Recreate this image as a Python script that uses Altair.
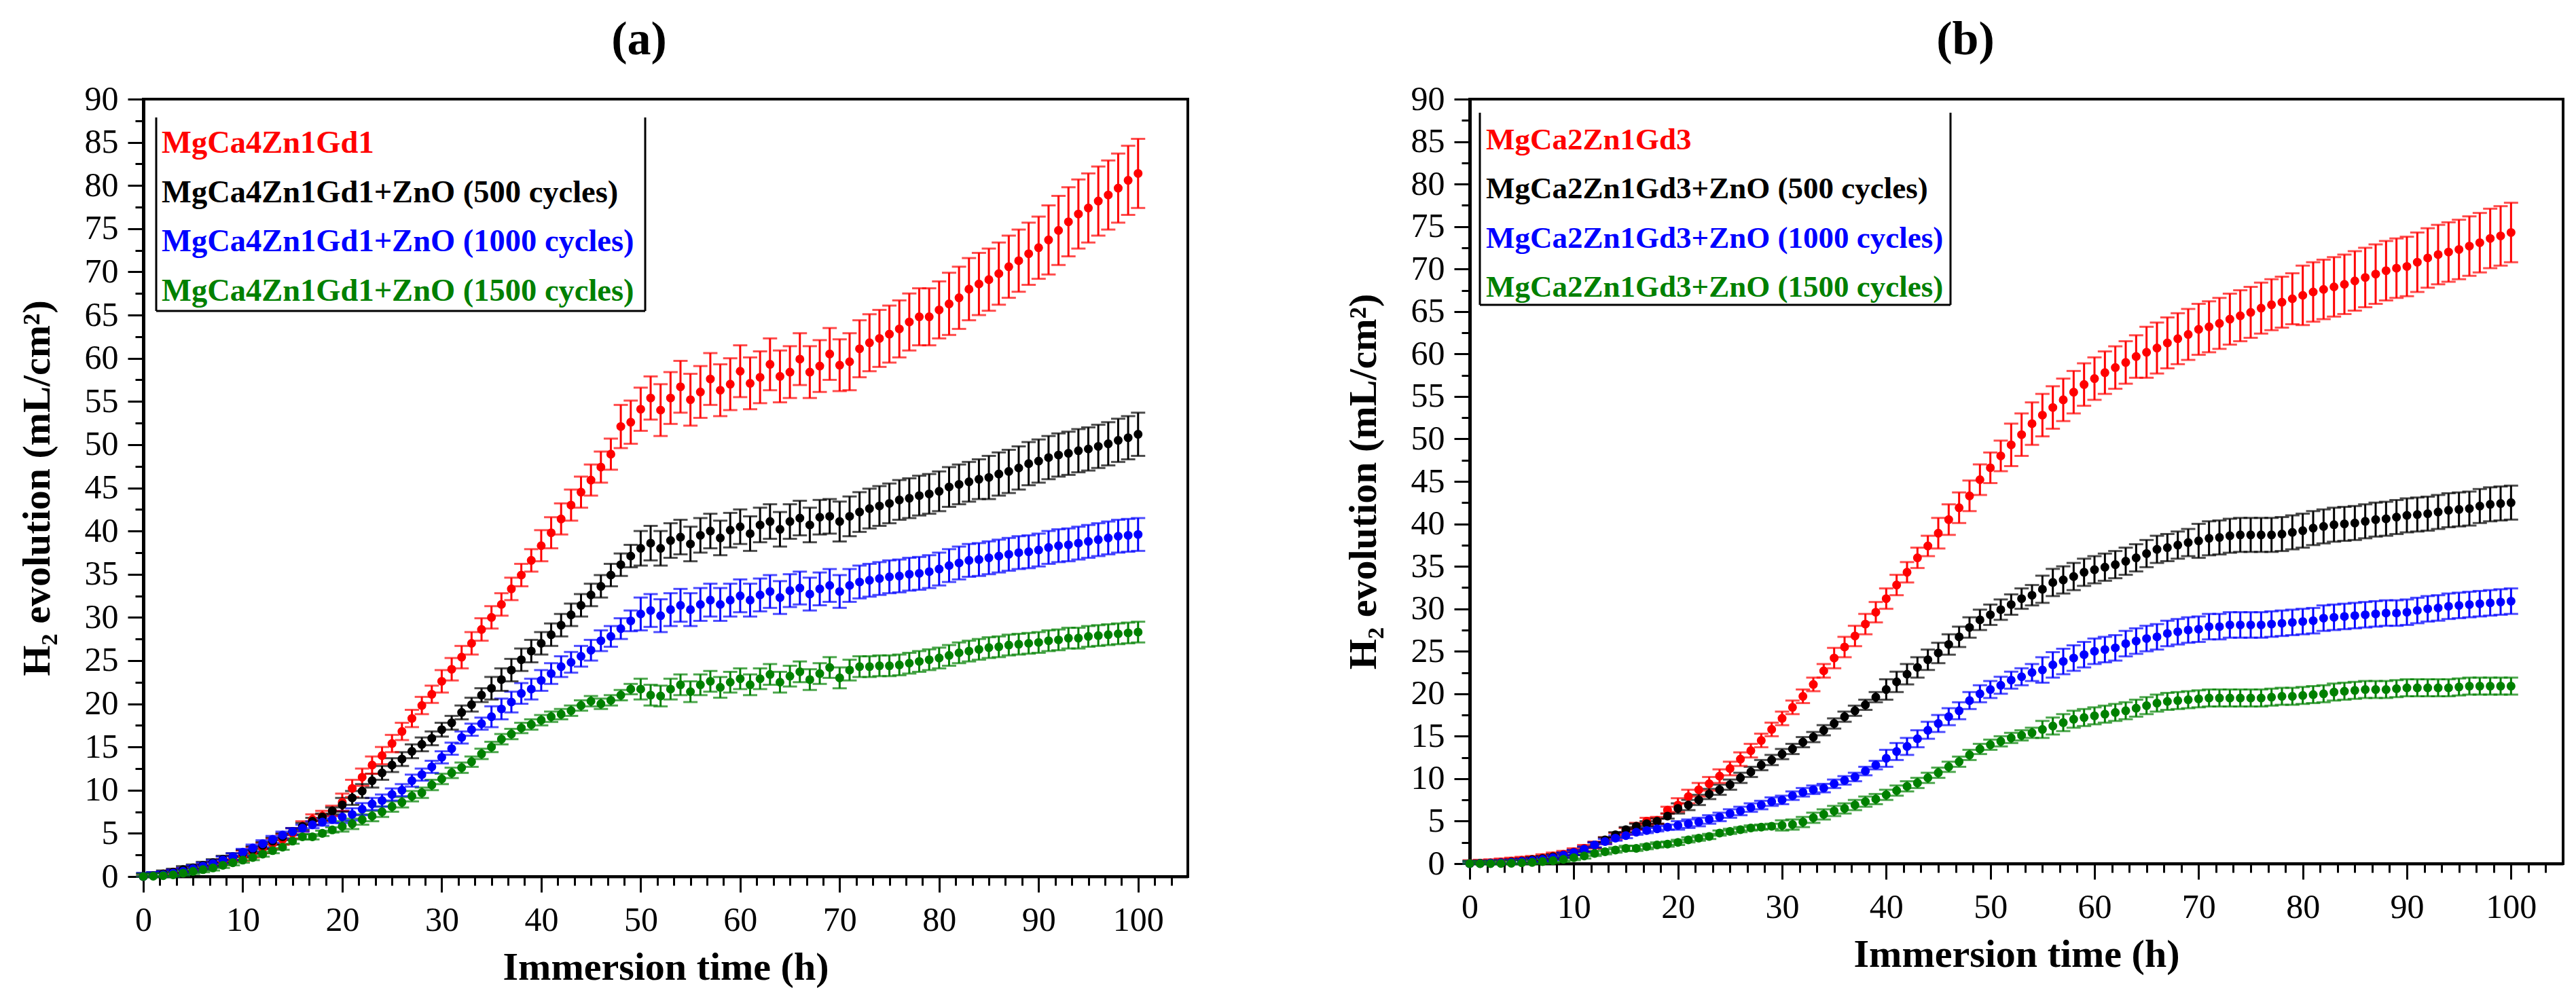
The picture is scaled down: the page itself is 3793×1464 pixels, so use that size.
import altair as alt
import pandas as pd

FONT = "Liberation Serif"
T = list(range(101))

A_RED = [0.0,0.1,0.3,0.5,0.7,0.9,1.1,1.4,1.7,2.1,
         2.4,2.8,3.3,3.8,4.3,5.0,5.8,6.6,7.0,7.6,
         8.6,10.2,11.5,12.9,14.0,15.4,16.8,18.3,19.8,21.1,
         22.6,24.0,25.4,27.0,28.6,30.0,31.5,33.3,34.9,36.6,
         38.3,39.8,41.4,43.0,44.5,45.9,47.4,48.9,52.1,52.6,
         54.1,55.4,54.0,55.4,56.7,55.2,56.1,57.6,56.3,57.0,
         58.5,57.1,57.8,59.3,57.9,58.4,59.9,58.4,59.1,60.5,
         59.2,59.6,61.1,61.8,62.3,62.8,63.4,64.2,64.8,64.8,
         65.6,66.3,67.0,68.0,68.6,69.1,69.8,70.6,71.3,72.1,
         72.8,73.7,74.8,75.8,76.7,77.4,78.2,78.9,79.7,80.6,
         81.4]
A_BLK = [0.0,0.1,0.3,0.5,0.8,1.0,1.3,1.6,2.0,2.3,
         2.7,3.1,3.6,4.1,4.6,5.2,5.8,6.4,6.9,7.6,
         8.3,9.1,9.9,11.1,12.0,12.9,13.6,14.5,15.3,16.0,
         17.0,17.8,19.0,19.9,21.0,21.8,22.8,23.9,25.1,26.1,
         27.0,28.0,29.1,30.3,31.4,32.6,33.6,34.9,36.1,37.1,
         38.0,38.6,38.0,38.9,39.3,38.5,39.5,40.0,39.2,40.1,
         40.5,39.7,40.7,41.1,40.2,41.1,41.5,40.7,41.6,41.7,
         41.1,41.7,42.2,42.6,42.9,43.2,43.6,43.8,44.1,44.3,
         44.6,45.1,45.4,45.7,46.0,46.2,46.6,46.9,47.3,47.8,
         48.1,48.5,48.8,49.0,49.3,49.5,49.8,50.1,50.5,50.8,
         51.2]
A_BLU = [0.0,0.1,0.2,0.4,0.6,0.9,1.2,1.5,1.9,2.3,
         2.8,3.3,3.8,4.3,4.8,5.2,5.6,6.0,6.3,6.6,
         6.9,7.2,7.8,8.4,8.8,9.5,10.0,11.1,11.8,12.7,
         13.8,14.8,16.1,17.0,17.7,18.5,19.4,20.2,21.2,21.7,
         22.7,23.5,24.3,24.8,25.5,26.2,27.3,27.8,28.7,29.6,
         30.4,30.8,30.2,30.9,31.4,30.9,31.5,32.0,31.5,32.0,
         32.5,32.0,32.6,33.0,32.3,33.1,33.4,32.7,33.3,33.7,
         33.0,33.7,34.1,34.3,34.5,34.7,34.8,35.0,35.1,35.3,
         35.6,36.0,36.3,36.6,36.7,36.9,37.1,37.3,37.5,37.6,
         37.8,38.1,38.3,38.4,38.6,38.8,39.0,39.2,39.4,39.5,
         39.6]
A_GRN = [0.0,0.05,0.1,0.2,0.4,0.6,0.8,1.0,1.3,1.6,
         1.9,2.2,2.6,3.0,3.4,4.1,4.6,4.6,5.0,5.4,
         5.8,6.1,6.6,7.0,7.5,8.1,8.6,9.3,9.7,10.6,
         11.3,12.0,12.6,13.3,14.2,15.0,15.9,16.5,17.2,17.6,
         18.1,18.5,18.8,19.2,19.8,20.3,20.0,20.4,21.0,21.7,
         21.7,21.0,20.9,21.7,22.2,21.4,22.2,22.6,21.9,22.5,
         22.9,22.2,22.9,23.4,22.5,23.2,23.7,22.8,23.5,24.2,
         23.0,23.9,24.3,24.3,24.4,24.4,24.5,24.7,24.9,25.1,
         25.3,25.6,25.9,26.1,26.3,26.5,26.6,26.8,26.9,27.0,
         27.1,27.3,27.4,27.6,27.6,27.8,27.9,28.0,28.1,28.2,
         28.3]

B_RED = [0.0,0.05,0.1,0.2,0.3,0.4,0.5,0.7,0.9,1.1,
         1.4,1.8,2.2,2.7,3.2,3.8,4.4,5.0,5.1,6.3,
         6.9,7.9,8.7,9.4,10.3,11.2,12.3,13.3,14.5,15.8,
         17.1,18.4,19.7,21.1,22.7,24.2,25.5,26.8,28.2,29.6,
         31.2,32.8,34.3,36.0,37.4,38.9,40.5,41.9,43.3,45.2,
         46.6,48.0,49.3,50.5,51.8,52.8,53.7,54.6,55.5,56.4,
         57.1,57.8,58.4,59.0,59.7,60.2,60.7,61.3,61.8,62.3,
         62.9,63.2,63.6,64.1,64.5,64.9,65.4,65.8,66.1,66.5,
         66.9,67.3,67.6,67.9,68.2,68.6,69.0,69.4,69.8,70.1,
         70.3,70.8,71.3,71.7,72.0,72.3,72.7,73.1,73.6,73.9,
         74.3]
B_BLK = [0.0,0.03,0.06,0.1,0.2,0.3,0.45,0.6,0.8,1.0,
         1.3,1.7,2.2,2.8,3.4,4.0,4.4,4.7,5.0,5.6,
         6.5,6.9,7.5,8.2,8.7,9.3,10.1,10.8,11.6,12.2,
         12.9,13.5,14.3,14.9,15.7,16.5,17.3,18.0,18.7,19.6,
         20.5,21.4,22.3,23.1,24.0,24.8,25.8,26.7,27.8,28.7,
         29.3,29.9,30.5,31.2,31.6,32.3,33.1,33.4,33.8,34.3,
         34.6,34.9,35.2,35.6,36.0,36.5,37.0,37.2,37.5,37.8,
         38.0,38.3,38.4,38.6,38.7,38.7,38.7,38.7,38.8,39.0,
         39.2,39.5,39.7,39.9,40.0,40.1,40.3,40.5,40.6,40.8,
         41.0,41.1,41.2,41.4,41.6,41.7,41.8,42.1,42.3,42.4,
         42.5]
B_BLU = [0.0,0.02,0.05,0.1,0.15,0.25,0.35,0.5,0.7,1.0,
         1.3,1.7,2.2,2.6,3.0,3.3,3.7,3.9,4.1,4.3,
         4.5,4.7,4.9,5.2,5.5,5.9,6.2,6.6,6.9,7.3,
         7.5,8.0,8.4,8.7,8.9,9.4,9.8,10.2,10.9,11.6,
         12.4,13.2,13.8,14.7,15.7,16.5,17.3,18.0,19.2,20.0,
         20.5,21.0,21.6,22.0,22.5,22.8,23.4,23.8,24.2,24.6,
         25.0,25.2,25.4,25.9,26.2,26.5,26.7,27.1,27.3,27.5,
         27.6,27.9,27.9,28.1,28.1,28.1,28.1,28.2,28.3,28.4,
         28.5,28.6,28.9,29.0,29.1,29.2,29.3,29.4,29.5,29.5,
         29.6,29.8,30.0,30.1,30.3,30.4,30.5,30.6,30.7,30.8,
         30.9]
B_GRN = [0.0,0.0,0.0,0.02,0.05,0.1,0.15,0.25,0.35,0.5,
         0.7,0.9,1.2,1.4,1.6,1.8,1.8,2.0,2.2,2.3,
         2.5,2.8,3.0,3.2,3.6,3.8,4.0,4.2,4.3,4.4,
         4.5,4.6,4.9,5.4,5.8,6.2,6.5,6.9,7.3,7.6,
         8.1,8.6,9.1,9.5,10.1,10.7,11.4,12.0,12.8,13.5,
         14.0,14.4,14.8,15.1,15.4,15.8,16.2,16.6,17.0,17.2,
         17.4,17.6,17.8,18.0,18.3,18.6,18.9,19.1,19.2,19.3,
         19.4,19.5,19.5,19.5,19.5,19.5,19.5,19.6,19.7,19.7,
         19.8,19.9,20.0,20.2,20.3,20.4,20.5,20.5,20.5,20.6,
         20.7,20.7,20.7,20.7,20.7,20.8,20.9,20.9,20.9,20.9,
         20.9]

# error bar half-lengths
EA_RED = [0.3,0.3,0.3,0.3,0.3,0.3,0.3,0.3,0.3,0.3,
          0.6,0.6,0.6,0.6,0.6,0.6,0.6,0.6,0.6,0.6,
          1.0,1.0,1.0,1.0,1.0,1.0,1.0,1.0,1.0,1.0,
          1.3,1.3,1.3,1.3,1.3,1.3,1.3,1.3,1.3,1.3,
          1.8,1.8,1.8,1.8,1.8,1.8,1.8,1.8,2.5,2.5,
          2.5,2.5,3.0,3.0,3.0,3.0,3.0,3.0,3.0,3.0,
          3.0,3.0,3.0,3.0,3.0,3.0,3.0,3.0,3.0,3.0,
          3.0,3.3,3.3,3.3,3.3,3.3,3.3,3.3,3.3,3.3,
          3.3,3.6,3.6,3.6,3.6,3.6,3.6,3.6,3.6,3.6,
          3.6,4.0,4.0,4.0,4.0,4.0,4.0,4.0,4.0,4.0,
          4.0]
EA_BLK = [0.4,0.4,0.4,0.4,0.4,0.4,0.4,0.4,0.4,0.4,
          0.4,0.4,0.4,0.4,0.4,0.4,0.4,0.4,0.4,0.4,
          0.8,0.8,0.8,0.8,0.8,0.8,0.8,0.8,0.8,0.8,
          0.8,0.8,0.8,0.8,0.8,1.3,1.3,1.3,1.3,1.3,
          1.3,1.3,1.3,1.3,1.3,1.3,1.3,1.3,1.3,1.3,
          2.0,2.0,2.0,2.0,2.0,2.0,2.0,2.0,2.0,2.0,
          2.0,2.0,2.0,2.0,2.0,2.0,2.0,2.0,2.0,2.0,
          2.3,2.3,2.3,2.3,2.3,2.3,2.3,2.3,2.3,2.3,
          2.3,2.3,2.3,2.3,2.3,2.5,2.5,2.5,2.5,2.5,
          2.5,2.5,2.5,2.5,2.5,2.5,2.5,2.5,2.5,2.5,
          2.5]
EA_BLU = [0.4,0.4,0.4,0.4,0.4,0.4,0.4,0.4,0.4,0.4,
          0.4,0.4,0.4,0.4,0.4,0.4,0.4,0.4,0.4,0.4,
          0.7,0.7,0.7,0.7,0.7,0.7,0.7,0.7,0.7,0.7,
          0.7,0.7,0.7,0.7,0.7,1.2,1.2,1.2,1.2,1.2,
          1.2,1.2,1.2,1.2,1.2,1.2,1.2,1.2,1.2,1.2,
          1.9,1.9,1.9,1.9,1.9,1.9,1.9,1.9,1.9,1.9,
          1.9,1.9,1.9,1.9,1.9,1.9,1.9,1.9,1.9,1.9,
          1.9,1.9,1.9,1.9,1.9,1.9,1.9,1.9,1.9,1.9,
          1.9,1.9,1.9,1.9,1.9,1.9,1.9,1.9,1.9,1.9,
          1.9,1.9,1.9,1.9,1.9,1.9,1.9,1.9,1.9,1.9,
          1.9]
EA_GRN = [0.3,0.3,0.3,0.3,0.3,0.3,0.3,0.3,0.3,0.3,
          0.3,0.3,0.3,0.3,0.3,0.3,0.3,0.3,0.3,0.3,
          0.6,0.6,0.6,0.6,0.6,0.6,0.6,0.6,0.6,0.6,
          0.6,0.6,0.6,0.6,0.6,0.6,0.6,0.6,0.6,0.6,
          0.6,0.6,0.6,0.6,0.6,0.6,0.6,0.6,0.6,0.6,
          1.2,1.2,1.2,1.2,1.2,1.2,1.2,1.2,1.2,1.2,
          1.2,1.2,1.2,1.2,1.2,1.2,1.2,1.2,1.2,1.2,
          1.2,1.2,1.2,1.2,1.2,1.2,1.2,1.2,1.2,1.2,
          1.2,1.2,1.2,1.2,1.2,1.2,1.2,1.2,1.2,1.2,
          1.2,1.2,1.2,1.2,1.2,1.2,1.2,1.2,1.2,1.2,
          1.2]
EB_RED = [0.4,0.4,0.4,0.4,0.4,0.4,0.4,0.4,0.4,0.4,
          0.4,0.4,0.4,0.4,0.4,0.4,0.4,0.4,0.4,0.4,
          0.8,0.8,0.8,0.8,0.8,0.8,0.8,0.8,0.8,0.8,
          0.8,0.8,0.8,0.8,0.8,1.2,1.2,1.2,1.2,1.2,
          1.2,1.2,1.2,1.2,1.2,1.8,1.8,1.8,1.8,1.8,
          1.8,1.8,2.5,2.5,2.5,2.5,2.5,2.5,2.5,2.5,
          2.5,2.5,2.5,2.5,2.5,3.0,3.0,3.0,3.0,3.0,
          3.0,3.0,3.0,3.0,3.0,3.0,3.0,3.0,3.0,3.0,
          3.5,3.5,3.5,3.5,3.5,3.5,3.5,3.5,3.5,3.5,
          3.5,3.5,3.5,3.5,3.5,3.5,3.5,3.5,3.5,3.5,
          3.5]
EB_BLK = [0.3,0.3,0.3,0.3,0.3,0.3,0.3,0.3,0.3,0.3,
          0.3,0.3,0.3,0.3,0.3,0.3,0.3,0.3,0.3,0.3,
          0.6,0.6,0.6,0.6,0.6,0.6,0.6,0.6,0.6,0.6,
          0.6,0.6,0.6,0.6,0.6,0.6,0.6,0.6,0.6,0.6,
          1.2,1.2,1.2,1.2,1.2,1.2,1.2,1.2,1.2,1.2,
          1.2,1.2,1.2,1.2,1.2,1.6,1.6,1.6,1.6,1.6,
          1.6,1.6,1.6,1.6,1.6,1.6,1.6,1.6,1.6,1.6,
          2.0,2.0,2.0,2.0,2.0,2.0,2.0,2.0,2.0,2.0,
          2.0,2.0,2.0,2.0,2.0,2.0,2.0,2.0,2.0,2.0,
          2.0,2.0,2.0,2.0,2.0,2.0,2.0,2.0,2.0,2.0,
          2.0]
EB_BLU = [0.3,0.3,0.3,0.3,0.3,0.3,0.3,0.3,0.3,0.3,
          0.3,0.3,0.3,0.3,0.3,0.3,0.3,0.3,0.3,0.3,
          0.5,0.5,0.5,0.5,0.5,0.5,0.5,0.5,0.5,0.5,
          0.5,0.5,0.5,0.5,0.5,0.5,0.5,0.5,0.5,0.5,
          1.0,1.0,1.0,1.0,1.0,1.0,1.0,1.0,1.0,1.0,
          1.0,1.0,1.0,1.0,1.0,1.5,1.5,1.5,1.5,1.5,
          1.5,1.5,1.5,1.5,1.5,1.5,1.5,1.5,1.5,1.5,
          1.5,1.5,1.5,1.5,1.5,1.5,1.5,1.5,1.5,1.5,
          1.5,1.5,1.5,1.5,1.5,1.5,1.5,1.5,1.5,1.5,
          1.5,1.5,1.5,1.5,1.5,1.5,1.5,1.5,1.5,1.5,
          1.5]
EB_GRN = [0.3,0.3,0.3,0.3,0.3,0.3,0.3,0.3,0.3,0.3,
          0.3,0.3,0.3,0.3,0.3,0.3,0.3,0.3,0.3,0.3,
          0.3,0.3,0.3,0.3,0.3,0.3,0.3,0.3,0.3,0.3,
          0.6,0.6,0.6,0.6,0.6,0.6,0.6,0.6,0.6,0.6,
          0.6,0.6,0.6,0.6,0.6,0.6,0.6,0.6,0.6,0.6,
          0.6,0.6,0.6,0.6,0.6,1.0,1.0,1.0,1.0,1.0,
          1.0,1.0,1.0,1.0,1.0,1.0,1.0,1.0,1.0,1.0,
          1.0,1.0,1.0,1.0,1.0,1.0,1.0,1.0,1.0,1.0,
          1.0,1.0,1.0,1.0,1.0,1.0,1.0,1.0,1.0,1.0,
          1.0,1.0,1.0,1.0,1.0,1.0,1.0,1.0,1.0,1.0,
          1.0]

NAMES_A = ["MgCa4Zn1Gd1", "MgCa4Zn1Gd1+ZnO (500 cycles)",
           "MgCa4Zn1Gd1+ZnO (1000 cycles)", "MgCa4Zn1Gd1+ZnO (1500 cycles)"]
NAMES_B = ["MgCa2Zn1Gd3", "MgCa2Zn1Gd3+ZnO (500 cycles)",
           "MgCa2Zn1Gd3+ZnO (1000 cycles)", "MgCa2Zn1Gd3+ZnO (1500 cycles)"]
COLORS = ["#FF0000", "#000000", "#0000FF", "#008000"]

X_TICKS = [k // 6 * 10 if k % 6 == 0 else round(k * 10 / 6, 4) for k in range(63)]
Y_TICKS = [k * 2.5 for k in range(37)]


def make_df(names, vals, errs):
    rows = []
    for name, vs, es in zip(names, vals, errs):
        for t, v, e in zip(T, vs, es):
            rows.append({"series": name, "t": t, "v": v,
                         "lo": max(v - e, 0.0), "hi": v + e})
    return pd.DataFrame(rows)


def panel(df, names, title, title_dx, w, h, leg_x, leg_y0, leg_y1, box, leg_fs):
    xs = alt.Scale(domain=[0, 105], nice=False, zero=False)
    ys = alt.Scale(domain=[0, 90], nice=False)
    xaxis = alt.Axis(
        values=X_TICKS, title="Immersion time (h)",
        labelExpr="datum.value % 10 === 0 ? datum.value + '' : ''",
        tickSize={"condition": {"test": "datum.value % 10 === 0", "value": 23}, "value": 13},
        tickWidth=3, tickColor="black", domainColor="black", domainWidth=4,
        labelFont=FONT, labelFontSize=50, labelColor="black", labelPadding=16,
        labelOverlap=False, labelFlush=False, grid=False,
        titleFont=FONT, titleFontSize=58, titleFontWeight="bold", titleColor="black",
        titlePadding=16)
    yaxis = alt.Axis(
        values=Y_TICKS, title="H\u2082 evolution (mL/cm\u00b2)",
        labelExpr="datum.value % 5 === 0 ? datum.value + '' : ''",
        tickSize={"condition": {"test": "datum.value % 5 === 0", "value": 23}, "value": 12},
        tickWidth=3, tickColor="black", domainColor="black", domainWidth=5,
        labelFont=FONT, labelFontSize=50, labelColor="black", labelPadding=14,
        labelOverlap=False, labelFlush=False, grid=False,
        titleFont=FONT, titleFontSize=58, titleFontWeight="bold", titleColor="black",
        titlePadding=40)
    color = alt.Color("series:N", scale=alt.Scale(domain=names, range=COLORS), legend=None)
    base = alt.Chart(df)
    x = alt.X("t:Q", scale=xs, axis=xaxis)
    bars = base.mark_rule(strokeWidth=3).encode(
        x=x, y=alt.Y("lo:Q", scale=ys, axis=yaxis), y2="hi:Q", color=color)
    cap_hi = base.mark_tick(orient="horizontal", size=21, thickness=3).encode(
        x=x, y=alt.Y("hi:Q", scale=ys, axis=yaxis), color=color)
    cap_lo = base.mark_tick(orient="horizontal", size=21, thickness=3).encode(
        x=x, y=alt.Y("lo:Q", scale=ys, axis=yaxis), color=color)
    pts = base.mark_circle(size=170, opacity=1).encode(
        x=x, y=alt.Y("v:Q", scale=ys, axis=yaxis), color=color)
    main = alt.layer(bars, cap_hi, cap_lo, pts)

    leg_df = pd.DataFrame({"series": names})
    leg_text = alt.Chart(leg_df).mark_text(
        align="left", baseline="middle", font=FONT, fontSize=leg_fs, fontWeight="bold"
    ).encode(
        x=alt.value(leg_x),
        y=alt.Y("series:N", sort=names, axis=None,
                scale=alt.Scale(domain=names, range=[leg_y0, leg_y1], padding=0)),
        text="series:N",
        color=color)
    bx0, bx1, by0, by1 = box
    one = pd.DataFrame({"k": [0]})
    b_left = alt.Chart(one).mark_rule(color="black", strokeWidth=3).encode(
        x=alt.value(bx0), y=alt.value(by0), y2=alt.value(by1))
    b_right = alt.Chart(one).mark_rule(color="black", strokeWidth=3).encode(
        x=alt.value(bx1), y=alt.value(by0), y2=alt.value(by1))
    b_bot = alt.Chart(one).mark_rule(color="black", strokeWidth=3).encode(
        x=alt.value(bx0), x2=alt.value(bx1), y=alt.value(by1))

    return alt.layer(main, leg_text, b_left, b_right, b_bot).resolve_scale(
        y="independent"
    ).properties(
        width=w, height=h,
        title=alt.Title(title, fontSize=70, font=FONT, fontWeight="bold", color="black",
                        anchor="middle", dx=title_dx, offset=26))


df_a = make_df(NAMES_A, [A_RED, A_BLK, A_BLU, A_GRN], [EA_RED, EA_BLK, EA_BLU, EA_GRN])
df_b = make_df(NAMES_B, [B_RED, B_BLK, B_BLU, B_GRN], [EB_RED, EB_BLK, EB_BLU, EB_GRN])

pa = panel(df_a, NAMES_A, "(a)", -39, 1538, 1145, 27, 65, 283, (19, 739, 27, 312), 46.5)
pb = panel(df_b, NAMES_B, "(b)", -75, 1610, 1126, 24, 60, 277, (15, 708, 20, 303), 45)

chart = alt.hconcat(pa, pb, spacing=226).properties(
    padding={"left": 16, "top": 14, "right": 0, "bottom": 0},
    background="white",
).configure_view(stroke="black", strokeWidth=4)

chart.save("out.html", embed_options={"renderer": "svg", "actions": False})
